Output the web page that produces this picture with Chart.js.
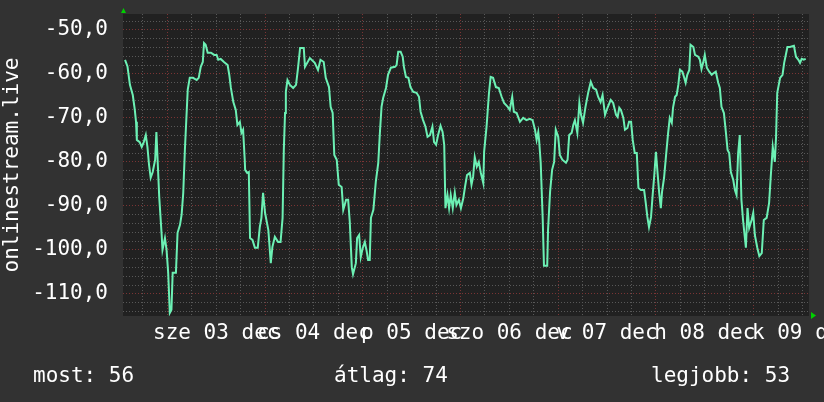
<!DOCTYPE html>
<html>
<head>
<meta charset="utf-8">
<script src="https://cdn.jsdelivr.net/npm/chart.js@4/dist/chart.umd.min.js"></script>
<style>
  html, body { margin: 0; padding: 0; background: #323232; }
  #wrap { width: 824px; height: 402px; }
</style>
</head>
<body>
<div id="wrap"><canvas id="myChart" width="824" height="402"></canvas></div>
<script>
// hours since 3 dec 00:00
const hours = [
  -10.4, -9.8, -9.2, -8.5, -8.0, -7.7, -7.5, -6.8, -6.3, -5.8,
  -5.3, -4.9, -4.5, -4.1, -3.6, -3.0, -2.7, -2.0, -1.4, -1.2,
  -0.6, -0.2, 0.2, 0.6, 1.0, 1.3, 2.1, 2.5, 3.1, 3.5,
  3.9, 4.3, 5.0, 5.5, 6.3, 7.2, 7.7, 8.2, 8.7, 9.0,
  9.4, 9.9, 10.7, 11.5, 12.1, 12.5, 13.1, 13.9, 14.8, 15.2,
  15.6, 16.2, 16.8, 17.2, 17.8, 18.2, 18.6, 19.0, 19.1, 19.6,
  20.0, 20.3, 20.9, 21.5, 22.2, 22.7, 23.1, 23.5, 24.0, 24.8,
  25.4, 25.8, 26.4, 27.2, 27.8, 28.3, 28.6, 28.9, 29.1, 29.5,
  30.1, 30.9, 31.6, 32.1, 32.6, 33.5, 33.8, 35.0, 36.2, 37.0,
  37.6, 38.4, 38.9, 39.7, 40.1, 40.6, 41.0, 41.6, 42.1, 42.8,
  43.2, 43.9, 44.4, 44.8, 45.3, 45.6, 46.3, 46.6, 47.1, 47.5,
  48.0, 48.5, 48.9, 49.3, 49.7, 50.0, 50.6, 51.2, 51.8, 52.2,
  52.6, 53.0, 53.7, 54.2, 54.9, 55.9, 56.3, 56.7, 57.3, 57.8,
  58.1, 58.6, 59.2, 59.7, 60.4, 61.2, 61.8, 62.2, 62.8, 63.4,
  63.9, 64.5, 65.1, 65.5, 66.0, 66.5, 67.1, 67.6, 68.0, 68.3,
  68.8, 69.2, 69.6, 70.1, 70.6, 71.0, 71.6, 72.1, 72.7, 73.1,
  73.6, 74.3, 74.7, 75.1, 75.5, 76.0, 76.5, 77.0, 77.6, 77.8,
  78.4, 79.0, 79.4, 80.0, 80.7, 81.4, 82.1, 82.7, 83.6, 84.1,
  84.7, 85.1, 85.8, 86.6, 87.4, 88.2, 89.0, 89.7, 90.3, 90.7,
  91.1, 91.3, 91.7, 92.2, 92.5, 93.3, 93.5, 94.0, 94.5, 95.0,
  95.4, 96.0, 96.4, 97.0, 97.9, 98.3, 98.7, 99.3, 99.7, 100.1,
  100.7, 101.2, 101.6, 102.1, 102.7, 103.4, 104.0, 104.6, 105.3, 105.8,
  106.4, 106.9, 107.5, 108.1, 108.9, 109.5, 110.2, 110.6, 111.0, 111.4,
  112.0, 112.4, 113.0, 113.4, 113.9, 114.3, 114.8, 115.3, 115.7, 116.3,
  117.1, 117.5, 117.9, 118.3, 118.8, 119.2, 119.6, 120.0, 120.4, 120.8,
  121.2, 121.5, 122.0, 122.5, 123.0, 123.4, 123.9, 124.2, 124.7, 125.1,
  125.5, 125.9, 126.5, 126.9, 127.3, 127.7, 128.2, 128.5, 129.2, 129.6,
  130.4, 130.8, 131.2, 131.6, 132.0, 132.5, 133.1, 133.7, 134.2, 134.7,
  135.3, 135.7, 136.1, 136.7, 137.2, 137.6, 138.0, 138.4, 139.0, 139.4,
  139.8, 140.2, 140.6, 141.0, 141.4, 142.1, 142.5, 142.9, 143.5, 143.9,
  144.3, 144.9, 145.4, 146.0, 146.5, 147.2, 147.8, 148.2, 148.7, 149.2,
  149.5, 149.8, 150.5, 151.1, 151.5, 151.9, 152.3, 152.9, 153.9, 154.4,
  155.0, 155.4, 155.8, 156.3, 156.8
];

const values = [
  -56.8, -58.3, -62.5, -64.8, -68.2, -70.9, -75, -75.5, -76.6, -75.5,
  -73.9, -76.6, -80.7, -83.6, -82.3, -79.5, -73.2, -88, -96.6, -100,
  -97.3, -100, -105.2, -114.3, -113.6, -105.2, -105.2, -96.1, -94.3, -92,
  -87, -77.3, -63.6, -60.9, -60.9, -61.4, -60.9, -58.4, -57.3, -53,
  -53.4, -55.2, -55.2, -55.7, -55.7, -56.8, -56.6, -57.3, -58, -60.2,
  -63.2, -66.4, -68.2, -71.6, -70.9, -73.4, -72.7, -79.5, -81.8, -82.5,
  -82.3, -97.3, -97.7, -99.5, -99.5, -94.8, -92.7, -87, -91.6, -95.5,
  -103, -99.3, -97, -98.2, -98.2, -92.7, -77.3, -68.9, -64.1, -61.4,
  -62.5, -63.2, -62.5, -58.6, -54.1, -54.1, -58.4, -56.4, -57.5, -59.1,
  -56.8, -57.3, -60.9, -63, -67.5, -68.9, -78.4, -79.5, -85.2, -85.7,
  -90.9, -88.6, -88.6, -93.6, -103.9, -105.5, -103, -97.3, -96.6, -101.6,
  -99.5, -98.2, -100, -102.3, -102.3, -92.7, -90.9, -84.5, -80.2, -73.4,
  -67.5, -65.5, -63.2, -60.2, -58.6, -58.4, -58, -55, -55, -56.1,
  -58.4, -60.7, -60.9, -63, -64.1, -64.3, -65.2, -68.6, -70.5, -72,
  -74.3, -73.9, -72, -75.5, -76.1, -73.9, -71.8, -73.2, -76.1, -90.5,
  -87.5, -90.5, -87.5, -90.5, -87, -89.8, -88.6, -90.5, -88.2, -85.7,
  -83, -82.5, -85.2, -83.4, -78.9, -81.1, -80, -82.5, -84.8, -77.7,
  -72, -64.3, -60.7, -60.9, -63, -63.2, -65.2, -66.6, -67.5, -68.2,
  -65.2, -68.6, -68.9, -70.9, -70, -70.5, -70.2, -70.5, -72.7, -75,
  -73.2, -75, -80.2, -93.2, -103.6, -103.6, -95.5, -86.8, -81.8, -80,
  -72.7, -74.3, -78.4, -79.5, -80.2, -79.5, -73.9, -73.4, -71.6, -70.5,
  -73.4, -66.6, -69.3, -71.1, -67.5, -64.1, -61.8, -63.2, -63.6, -65.2,
  -66.4, -64.8, -69.3, -67.7, -65.9, -66.6, -69.3, -69.8, -67.7, -68.2,
  -70, -72.7, -72.3, -70.9, -70.9, -75, -78, -78, -85.9, -86.4,
  -86.4, -89.3, -92.5, -94.8, -92.5, -87.5, -83, -77.7, -82.5, -87,
  -90.5, -86.8, -83.6, -78.4, -73.4, -70, -71.1, -67.7, -65.2, -64.8,
  -62.5, -59.1, -59.5, -60.7, -62, -60.2, -59.1, -53.4, -53.9, -55.7,
  -56.1, -56.8, -58.9, -57.5, -55.7, -58.6, -59.5, -60.2, -59.8, -59.5,
  -62, -63.2, -67.5, -68.9, -73.4, -77.3, -78, -82.3, -84.1, -86.4,
  -87.5, -78, -73.9, -88.6, -93.2, -99.5, -90.5, -95, -93.2, -91.6,
  -96.6, -99.5, -101.4, -100.7, -93.2, -92.7, -89.3, -83.4, -76.6, -80,
  -74.5, -64.3, -60.9, -60.2, -57.5, -55.7, -53.9, -53.9, -53.6, -56.1,
  -56.8, -57.5, -56.6, -56.8, -56.6
];

// one label per day, placed at noon
const dayLabels = ["sze 03 dec", "cs 04 dec", "p 05 dec", "szo 06 dec", "v 07 dec", "h 08 dec", "k 09 dec"];
const legendLabels = ["most: 56", "átlag: 74", "legjobb: 53"];
const axisTitle = "onlinestream.live";

const FONT = "'DejaVu Sans Mono', monospace";
const LINE_COLOR = "#6cf0b4";
const MAJOR_GRID = "#7a3434";
const MINOR_GRID = "#585858";

const background = {
  id: "background",
  beforeDraw(chart) {
    const { ctx, chartArea } = chart;
    ctx.save();
    ctx.fillStyle = "#323232";
    ctx.fillRect(0, 0, chart.width, chart.height);
    ctx.fillStyle = "#212121";
    ctx.fillRect(chartArea.left, chartArea.top, chartArea.right - chartArea.left, chartArea.bottom - chartArea.top);
    ctx.restore();
  },
  afterDraw(chart) {
    const { ctx, chartArea } = chart;
    ctx.save();
    // little green arrows at the axis ends
    ctx.fillStyle = "#00d000";
    ctx.beginPath();
    ctx.moveTo(chartArea.left - 2, chartArea.top - 1);
    ctx.lineTo(chartArea.left + 3, chartArea.top - 1);
    ctx.lineTo(chartArea.left + 0.5, chartArea.top - 6);
    ctx.closePath();
    ctx.fill();
    ctx.beginPath();
    ctx.moveTo(chartArea.right + 2, chartArea.bottom - 4);
    ctx.lineTo(chartArea.right + 2, chartArea.bottom + 3);
    ctx.lineTo(chartArea.right + 7, chartArea.bottom - 0.5);
    ctx.closePath();
    ctx.fill();
    // summary line under the chart
    ctx.fillStyle = "#ffffff";
    ctx.font = "21px " + FONT;
    ctx.textBaseline = "alphabetic";
    ctx.textAlign = "left";
    const xs = [33, 334, 651];
    legendLabels.forEach((t, i) => ctx.fillText(t, xs[i], 382));
    ctx.restore();
  }
};

const config = {
  type: "line",
  data: {
    datasets: [
      {
        data: hours.map((h, i) => ({ x: h, y: values[i] })),
        borderColor: LINE_COLOR,
        borderWidth: 2,
        pointRadius: 0,
        tension: 0,
        fill: false
      }
    ]
  },
  options: {
    responsive: false,
    animation: false,
    layout: { padding: { left: 0, top: 14, right: 15, bottom: 0 } },
    plugins: { legend: { display: false }, tooltip: { enabled: false } },
    scales: {
      x: {
        type: "linear",
        min: -10.9,
        max: 157.6,
        afterFit(scale) {
          scale.height = 86;
          scale.paddingLeft = 0;
          scale.paddingRight = 0;
        },
        border: { display: false, dash: [1, 2] },
        grid: {
          drawTicks: false,
          lineWidth: 1,
          color: (ctx) => (ctx.tick && ctx.tick.value % 24 === 0 ? MAJOR_GRID : MINOR_GRID)
        },
        ticks: {
          stepSize: 6,
          includeBounds: false,
          autoSkip: false,
          maxRotation: 0,
          padding: 5,
          color: "#ffffff",
          font: { family: FONT, size: 21 },
          callback: (v) => (v % 24 === 12 && v > 0 ? dayLabels[(v - 12) / 24] || "" : "")
        }
      },
      y: {
        min: -115,
        max: -46.4,
        afterFit(scale) {
          scale.width = 123;
          scale.paddingTop = 0;
          scale.paddingBottom = 0;
        },
        border: { display: false, dash: [1, 2] },
        grid: {
          drawTicks: false,
          lineWidth: 1,
          color: (ctx) => (ctx.tick && ctx.tick.value % 10 === 0 ? MAJOR_GRID : MINOR_GRID)
        },
        ticks: {
          stepSize: 2,
          includeBounds: false,
          autoSkip: false,
          padding: 15,
          color: "#ffffff",
          font: { family: FONT, size: 21 },
          callback: (v) => (v % 10 === 0 ? v.toFixed(1).replace(".", ",") : "")
        },
        title: {
          display: true,
          text: axisTitle,
          color: "#ffffff",
          padding: { top: 0, bottom: 0 },
          font: { family: FONT, size: 21 }
        }
      }
    }
  },
  plugins: [background]
};

const chartDOM = document.getElementById("myChart");
const myChart = new Chart(chartDOM, config);
</script>
</body>
</html>
